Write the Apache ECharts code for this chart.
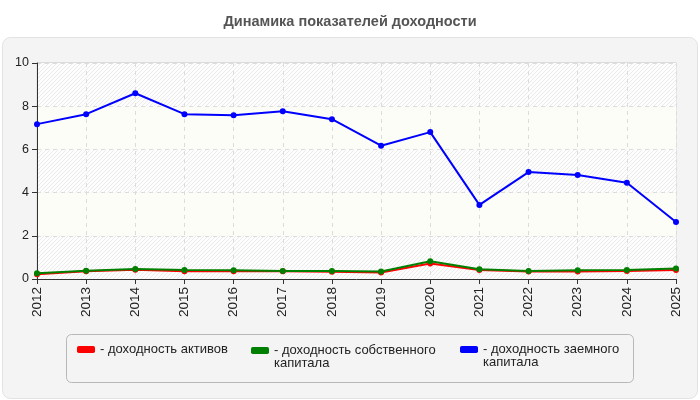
<!DOCTYPE html>
<html>
<head>
<meta charset="utf-8">
<script src="https://cdn.jsdelivr.net/npm/echarts@6/dist/echarts.min.js"></script>
<style>
    html, body { margin: 0; padding: 0; background: #fff; }
    #chart { width: 700px; height: 400px; }
</style>
</head>
<body>
<div id="chart"></div>
<script>
var years = ['2012', '2013', '2014', '2015', '2016', '2017', '2018', '2019', '2020', '2021', '2022', '2023', '2024', '2025'];
var assetsReturn = [0.22, 0.36, 0.43, 0.36, 0.36, 0.36, 0.33, 0.30, 0.72, 0.42, 0.35, 0.35, 0.37, 0.42];
var equityReturn = [0.27, 0.38, 0.46, 0.42, 0.40, 0.37, 0.37, 0.35, 0.82, 0.45, 0.37, 0.40, 0.42, 0.49];
var debtReturn = [7.17, 7.63, 8.60, 7.63, 7.58, 7.77, 7.40, 6.17, 6.80, 3.43, 4.95, 4.81, 4.46, 2.64];
var yTicks = [0, 2, 4, 6, 8, 10];

var names = ['доходность активов', 'доходность собственного капитала', 'доходность заемного капитала'];
// the leading blank line keeps the icon level with the first text line
var legendText = {
    'доходность активов': '- доходность активов',
    'доходность собственного капитала': '\u00a0\n- доходность собственного\nкапитала',
    'доходность заемного капитала': '\u00a0\n- доходность заемного\nкапитала'
};

// diagonal hatch for the plot bands
var hatch = document.createElement('canvas');
hatch.width = 4;
hatch.height = 4;
var hctx = hatch.getContext('2d');
hctx.fillStyle = '#fdfdfd';
hctx.fillRect(0, 0, 4, 4);
hctx.strokeStyle = '#ebebeb';
hctx.lineWidth = 1;
hctx.beginPath();
hctx.moveTo(0, 4); hctx.lineTo(4, 0);
hctx.moveTo(-1, 1); hctx.lineTo(1, -1);
hctx.moveTo(3, 5); hctx.lineTo(5, 3);
hctx.stroke();

var myChart = echarts.init(document.getElementById('chart'));

function makeLegend(name, left, top) {
    return {
        data: [name],
        left: left,
        top: top,
        padding: 0,
        itemWidth: 18,
        itemHeight: 7,
        itemGap: 4,
        icon: 'roundRect',
        formatter: function (n) { return legendText[n]; },
        textStyle: {
            fontFamily: 'Liberation Sans',
            fontSize: 13,
            color: '#222',
            lineHeight: 13
        },
        selectedMode: false
    };
}

function makeSeries(name, data, color) {
    return {
        name: name,
        type: 'line',
        data: data,
        symbol: 'circle',
        symbolSize: 6,
        lineStyle: { color: color, width: 2 },
        itemStyle: { color: color },
        animation: false
    };
}

option = {
    animation: false,
    title: {
        text: 'Динамика показателей доходности',
        left: 'center',
        top: 9,
        textStyle: {
            fontFamily: 'Liberation Sans',
            fontSize: 14.5,
            fontWeight: 'bold',
            color: '#555'
        }
    },
    graphic: [
        {
            type: 'rect',
            z: -10,
            shape: { x: 2.5, y: 37.5, width: 695, height: 361, r: 8 },
            style: { fill: '#f4f4f4', stroke: '#e2e2e2', lineWidth: 1 }
        },
        {
            type: 'rect',
            z: -9,
            shape: { x: 66.5, y: 334.5, width: 567, height: 48, r: 5 },
            style: { fill: '#f4f4f4', stroke: '#b8b8b8', lineWidth: 1 }
        },
        {
            type: 'rect',
            z: -8,
            shape: { x: 37, y: 62.5, width: 639, height: 217 },
            style: { fill: 'none', stroke: '#dcdcdc', lineWidth: 1 }
        }
    ],
    legend: [
        makeLegend(names[0], 77, 343),
        makeLegend(names[1], 251, 331),
        makeLegend(names[2], 460, 330)
    ],
    grid: {
        left: 37,
        right: 24,
        top: 63,
        bottom: 121
    },
    xAxis: {
        type: 'category',
        data: years,
        boundaryGap: false,
        axisLine: { lineStyle: { color: '#333', width: 1 } },
        axisTick: { show: true, length: 5, alignWithLabel: true, lineStyle: { color: '#333' } },
        axisLabel: {
            rotate: 90,
            margin: 8,
            fontFamily: 'Liberation Sans',
            fontSize: 13.5,
            color: '#222'
        },
        splitLine: { show: true, lineStyle: { color: '#dcdcdc', type: [4, 4] } }
    },
    yAxis: {
        type: 'value',
        min: yTicks[0],
        max: yTicks[yTicks.length - 1],
        interval: 2,
        axisLine: { show: true, lineStyle: { color: '#333', width: 1 } },
        axisTick: { show: true, length: 5, lineStyle: { color: '#333' } },
        axisLabel: {
            margin: 8,
            fontFamily: 'Liberation Sans',
            fontSize: 12.5,
            color: '#222'
        },
        splitLine: { show: true, lineStyle: { color: '#dcdcdc', type: [4, 4] } },
        splitArea: {
            show: true,
            areaStyle: {
                color: [{ image: hatch, repeat: 'repeat' }, '#fdfdf7']
            }
        }
    },
    series: [
        makeSeries(names[0], assetsReturn, '#ff0000'),
        makeSeries(names[1], equityReturn, '#008000'),
        makeSeries(names[2], debtReturn, '#0000ff')
    ]
};

myChart.setOption(option);
</script>
</body>
</html>
